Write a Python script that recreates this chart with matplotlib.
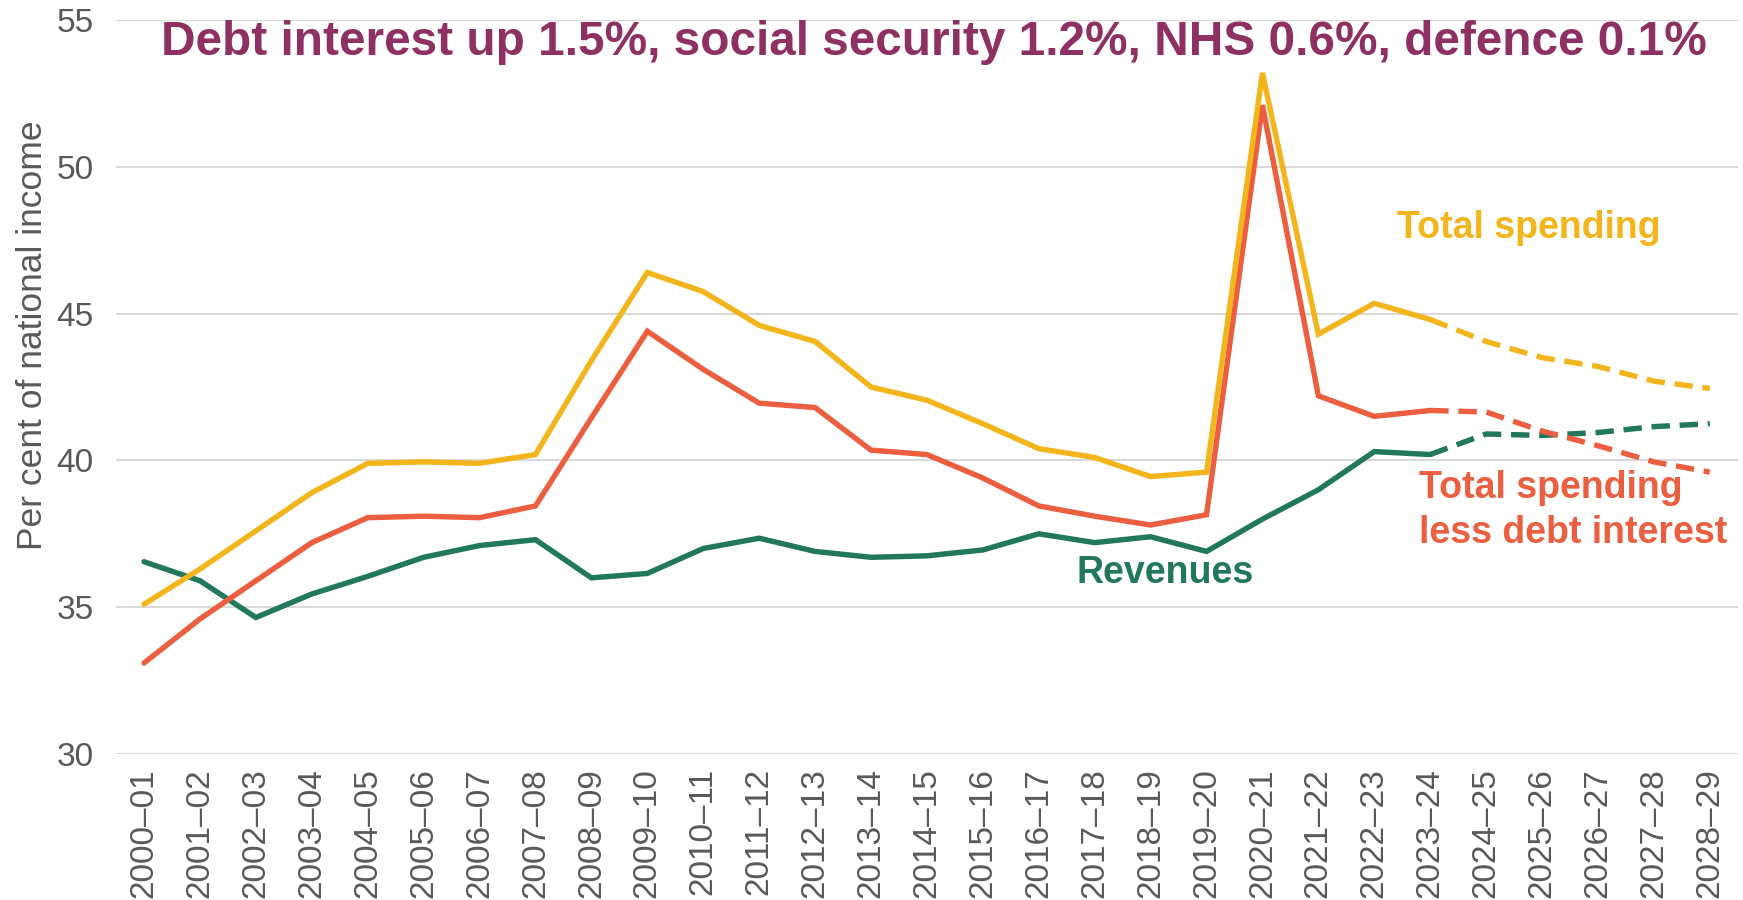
import matplotlib
matplotlib.use("Agg")
import matplotlib.pyplot as plt

years = ["2000–01", "2001–02", "2002–03", "2003–04", "2004–05", "2005–06",
         "2006–07", "2007–08", "2008–09", "2009–10", "2010–11", "2011–12",
         "2012–13", "2013–14", "2014–15", "2015–16", "2016–17", "2017–18",
         "2018–19", "2019–20", "2020–21", "2021–22", "2022–23", "2023–24",
         "2024–25", "2025–26", "2026–27", "2027–28", "2028–29"]

total_spending = [35.1, 36.3, 37.6, 38.9, 39.9, 39.95, 39.9, 40.2, 43.4, 46.4,
                  45.75, 44.6, 44.05, 42.5, 42.05, 41.25, 40.4, 40.1, 39.45, 39.6,
                  53.2, 44.3, 45.35, 44.8, 44.05, 43.5, 43.2, 42.7, 42.45]

spending_less_interest = [33.1, 34.6, 35.9, 37.2, 38.05, 38.1, 38.05, 38.45, 41.45, 44.4,
                          43.1, 41.95, 41.8, 40.35, 40.2, 39.4, 38.45, 38.1, 37.8, 38.15,
                          52.1, 42.2, 41.5, 41.7, 41.65, 41.0, 40.5, 39.95, 39.6]

revenues = [36.55, 35.9, 34.65, 35.45, 36.05, 36.7, 37.1, 37.3, 36.0, 36.15,
            37.0, 37.35, 36.9, 36.7, 36.75, 36.95, 37.5, 37.2, 37.4, 36.9,
            38.0, 39.0, 40.3, 40.2, 40.9, 40.85, 40.95, 41.15, 41.25]

last_outturn = 23  # 2023–24; forecasts after this are dashed

GOLD = "#F2B51C"
RED = "#EB5F40"
GREEN = "#21785A"
PURPLE = "#8E3062"
GREY = "#595959"

plt.rcParams["font.family"] = ["Liberation Sans", "DejaVu Sans"]

fig = plt.figure(figsize=(17.43, 9), dpi=100)
ax = fig.add_axes([0.0666, 0.1622, 0.9304, 0.8156])

x = list(range(len(years)))
lw = 3.9
for series, colour in [(revenues, GREEN), (spending_less_interest, RED), (total_spending, GOLD)]:
    ax.plot(x[:last_outturn + 1], series[:last_outturn + 1], color=colour, lw=lw,
            solid_capstyle="round", solid_joinstyle="miter", zorder=3)
    ax.plot(x[last_outturn:], series[last_outturn:], color=colour, lw=lw,
            linestyle=(0, (3.4, 1.8)), dash_capstyle="butt", zorder=3)

ax.set_xlim(-0.5, len(years) - 0.5)
ax.set_ylim(30, 55)
ax.set_yticks([30, 35, 40, 45, 50, 55])
ax.set_xticks(x)
ax.set_xticklabels(years, rotation=90)
ax.tick_params(axis="both", length=0, labelsize=24, colors=GREY)
ax.tick_params(axis="y", pad=16)
ax.tick_params(axis="x", pad=10)
ax.grid(axis="y", color="#D9D9D9", lw=1.5, zorder=0)
for s in ax.spines.values():
    s.set_visible(False)

fig.text(33 / 1743, 1 - 335 / 900, "Per cent of national income", rotation=90,
         ha="center", va="center", fontsize=25.5, color=GREY)

fig.text(0.536, 1 - 42.5 / 900,
         "Debt interest up 1.5%, social security 1.2%, NHS 0.6%, defence 0.1%",
         ha="center", va="center", fontsize=34.4, fontweight="bold", color=PURPLE, zorder=5)

ax.text(22.4, 47.93, "Total spending", color=GOLD, fontsize=27, fontweight="bold",
        ha="left", va="center")
ax.text(22.8, 38.3, "Total spending\nless debt interest", color=RED, fontsize=27,
        fontweight="bold", ha="left", va="center", linespacing=1.3)
ax.text(16.67, 36.16, "Revenues", color=GREEN, fontsize=27, fontweight="bold",
        ha="left", va="center")

fig.savefig("out.png", dpi=100)
